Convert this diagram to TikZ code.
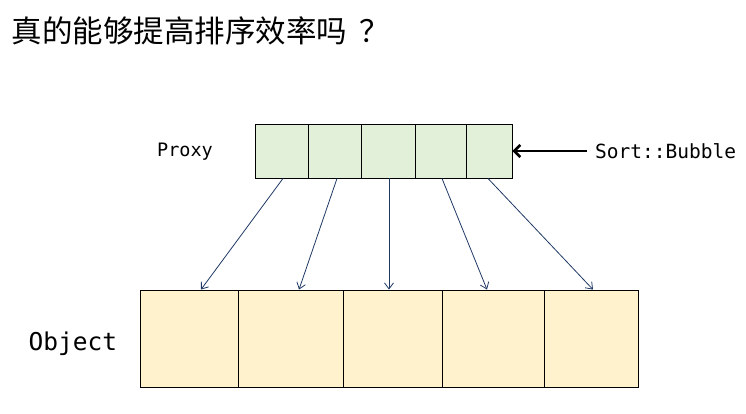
\documentclass[tikz,border=0pt]{standalone}
\usepackage{fontspec}
\setmonofont{DejaVu Sans Mono}
\newfontfamily\cjk{Noto Sans CJK SC}
\usepackage{tikz}
\usetikzlibrary{positioning, arrows.meta}
\definecolor{proxygreen}{HTML}{E2F0D9}
\definecolor{objectyellow}{HTML}{FFF2CC}
\definecolor{linkblue}{HTML}{203864}
\tikzstyle{arrow} = [line width=2.6pt,-{Straight Barb[length=6pt,width=12pt]}]

\begin{document}
\begin{tikzpicture}[x=1pt,y=-1pt]
                    \tikzstyle{every node}=[font=\ttfamily]
                    \tikzstyle{pcell} = [rectangle, draw=black, line width=0.9pt, fill=proxygreen, minimum height=54pt, inner sep=0pt]
                    \tikzstyle{ocell} = [rectangle, draw=black, line width=0.9pt, fill=objectyellow, minimum height=97pt, inner sep=0pt]
                    \tikzstyle{link} = [draw=linkblue, line width=0.8pt, -{Straight Barb[length=6pt,width=9pt]}]

                    \useasboundingbox (0,0) rectangle (746,413);

                    \node[anchor=west, font=\cjk\fontsize{30.5}{33}\selectfont](title) at (8,31) {真的能够提高排序效率吗\hspace{12pt}？};

                    % proxy row
                    \node[pcell, minimum width=53pt](p1) at (281.5,151) {};
                    \node[pcell, minimum width=53pt](p2) at (334.5,151) {};
                    \node[pcell, minimum width=54pt](p3) at (388,151) {};
                    \node[pcell, minimum width=51pt](p4) at (440.5,151) {};
                    \node[pcell, minimum width=46pt](p5) at (489,151) {};
                    \node[font=\ttfamily\fontsize{18.5}{21}\selectfont](proxy) at (185,152) {Proxy};
                    \node[anchor=west, inner sep=8pt, font=\ttfamily\fontsize{19.5}{22}\selectfont](sort) at (587,151) {Sort::Bubble};

                    % object row
                    \node[ocell, minimum width=98pt](o1) at (189,338.5) {};
                    \node[ocell, minimum width=105pt](o2) at (290.5,338.5) {};
                    \node[ocell, minimum width=99pt](o3) at (392.5,338.5) {};
                    \node[ocell, minimum width=102pt](o4) at (493,338.5) {};
                    \node[ocell, minimum width=94pt](o5) at (591,338.5) {};
                    \node[font=\ttfamily\fontsize{24.5}{27}\selectfont](object) at (73,344) {Object};

                    \draw[arrow] (sort.west) -- (p5.east);

                    \draw[link] ([xshift=1.5pt]p1.south) -- ([xshift=12pt]o1.north);
                    \draw[link] ([xshift=2.5pt]p2.south) -- ([xshift=8.5pt]o2.north);
                    \draw[link] ([xshift=1pt]p3.south) -- ([xshift=-3.5pt]o3.north);
                    \draw[link] ([xshift=1.5pt]p4.south) -- ([xshift=-6pt]o4.north);
                    \draw[link] ([xshift=-1pt]p5.south) -- ([xshift=2pt]o5.north);

            \end{tikzpicture}
\end{document}
